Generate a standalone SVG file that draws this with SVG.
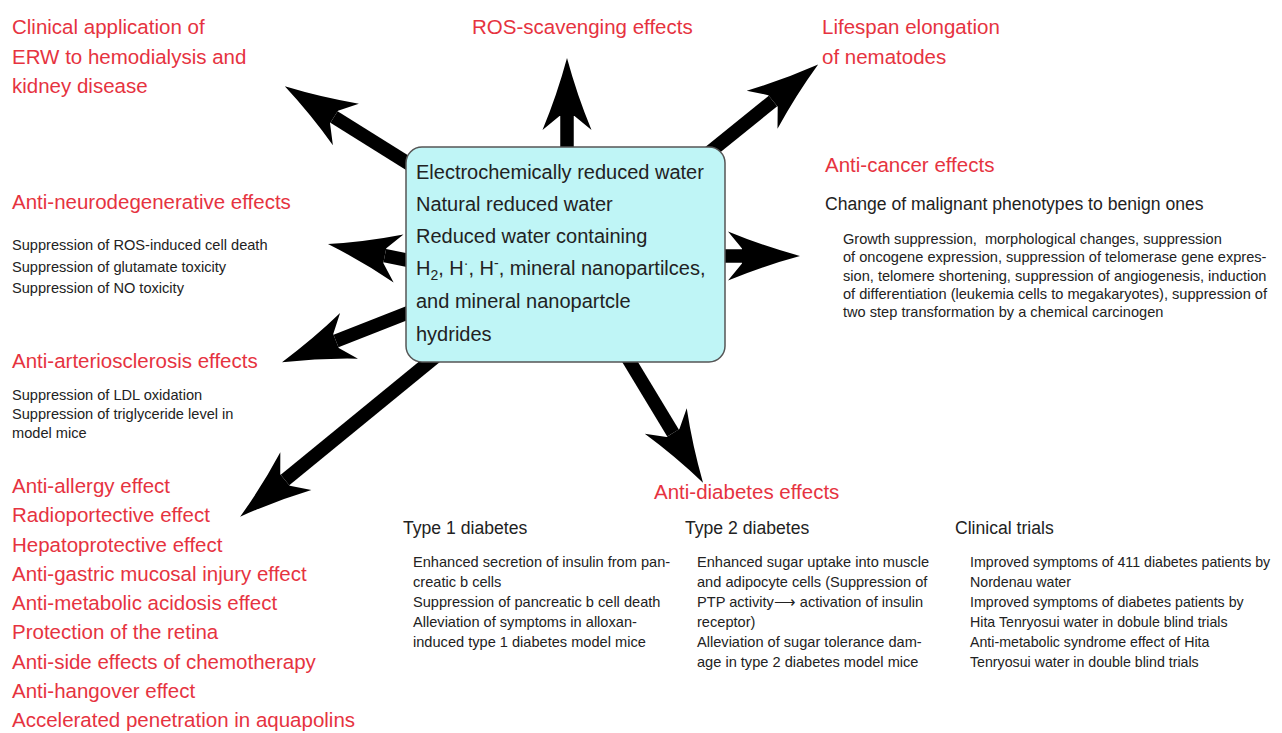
<svg xmlns="http://www.w3.org/2000/svg" width="1282" height="733" viewBox="0 0 1282 733">
<defs>
<style>
text{font-family:"Liberation Sans",Arial,Helvetica,sans-serif}
.red{fill:#e6333f;font-size:20.5px}
.hd{fill:#222;font-size:17.6px}
.sm{fill:#222;font-size:14.6px}
.ct{fill:#222;font-size:14.2px}
.bx{fill:#222;font-size:20px}
.arr{stroke:#000;stroke-width:13.5;fill:none;marker-end:url(#head)}
</style>
<marker id="head" markerUnits="userSpaceOnUse" viewBox="-20 -30 100 60" markerWidth="100" markerHeight="60" refX="0" refY="0" orient="auto" overflow="visible">
<path d="M58,0 Q21,-10 -14,-24.5 L0,-7.5 L0,7.5 L-14,24.5 Q21,10 58,0 Z" fill="#000"/>
</marker>
</defs>
<rect width="1282" height="733" fill="#fff"/>

<g id="connectors">
<line class="arr" x1="430" y1="177" x2="334" y2="117"/>
<line class="arr" x1="567" y1="165" x2="567" y2="116"/>
<line class="arr" x1="695" y1="164" x2="773" y2="101"/>
<line class="arr" x1="424" y1="263.6" x2="384.8" y2="255.6"/>
<line class="arr" x1="700" y1="256" x2="742" y2="256"/>
<line class="arr" x1="420" y1="308" x2="336" y2="341"/>
<line class="arr" x1="450" y1="345" x2="285" y2="480"/>
<line class="arr" x1="621" y1="347" x2="673" y2="433"/>
</g>

<g id="center">
<rect x="406" y="147" width="319" height="215" rx="16" ry="16" fill="#bff5f6" stroke="#555" stroke-width="1.5"/>
<text class="bx" x="416" y="179">Electrochemically reduced water</text>
<text class="bx" x="416" y="211">Natural reduced water</text>
<text class="bx" x="416" y="243">Reduced water containing</text>
<text class="bx" x="416" y="275">H<tspan font-size="14" dy="5">2</tspan><tspan dy="-5">, H</tspan><tspan font-size="14" dy="-7">·</tspan><tspan dy="7">, H</tspan><tspan font-size="14" dy="-7">-</tspan><tspan dy="7">, mineral nanopartilces,</tspan></text>
<text class="bx" x="416" y="308">and mineral nanopartcle</text>
<text class="bx" x="416" y="341">hydrides</text>
</g>

<g id="clinical-erw">
<text class="red" x="12" y="34">Clinical application of</text>
<text class="red" x="12" y="63.5">ERW to hemodialysis and</text>
<text class="red" x="12" y="93">kidney disease</text>
</g>

<g id="ros">
<text class="red" x="472" y="34">ROS-scavenging effects</text>
</g>

<g id="lifespan">
<text class="red" x="822" y="34">Lifespan elongation</text>
<text class="red" x="822" y="64">of nematodes</text>
</g>

<g id="anti-cancer">
<text class="red" x="825" y="172">Anti-cancer effects</text>
<text class="hd" x="825" y="210">Change of malignant phenotypes to benign ones</text>
<text class="sm" x="843" y="244" style="white-space:pre">Growth suppression,  morphological changes, suppression</text>
<text class="sm" x="843" y="262.3">of oncogene expression, suppression of telomerase gene expres-</text>
<text class="sm" x="843" y="280.6">sion, telomere shortening, suppression of angiogenesis, induction</text>
<text class="sm" x="843" y="299">of differentiation (leukemia cells to megakaryotes), suppression of</text>
<text class="sm" x="843" y="317.3">two step transformation by a chemical carcinogen</text>
</g>

<g id="anti-neuro">
<text class="red" x="12" y="209">Anti-neurodegenerative effects</text>
<text class="sm" x="12" y="250">Suppression of ROS-induced cell death</text>
<text class="sm" x="12" y="271.5">Suppression of glutamate toxicity</text>
<text class="sm" x="12" y="293">Suppression of NO toxicity</text>
</g>

<g id="anti-arterio">
<text class="red" x="12" y="368">Anti-arteriosclerosis effects</text>
<text class="sm" x="12" y="400">Suppression of LDL oxidation</text>
<text class="sm" x="12" y="419">Suppression of triglyceride level in</text>
<text class="sm" x="12" y="438">model mice</text>
</g>

<g id="other-effects">
<text class="red" x="12" y="493">Anti-allergy effect</text>
<text class="red" x="12" y="522.3">Radioportective effect</text>
<text class="red" x="12" y="551.5">Hepatoprotective effect</text>
<text class="red" x="12" y="580.8">Anti-gastric mucosal injury effect</text>
<text class="red" x="12" y="610">Anti-metabolic acidosis effect</text>
<text class="red" x="12" y="639.3">Protection of the retina</text>
<text class="red" x="12" y="668.5">Anti-side effects of chemotherapy</text>
<text class="red" x="12" y="697.8">Anti-hangover effect</text>
<text class="red" x="12" y="727">Accelerated penetration in aquapolins</text>
</g>

<g id="anti-diabetes">
<text class="red" x="654" y="499">Anti-diabetes effects</text>
</g>

<g id="type1">
<text class="hd" x="403" y="534">Type 1 diabetes</text>
<text class="sm" x="413" y="567">Enhanced secretion of insulin from pan-</text>
<text class="sm" x="413" y="587">creatic b cells</text>
<text class="sm" x="413" y="607">Suppression of pancreatic b cell death</text>
<text class="sm" x="413" y="627">Alleviation of symptoms in alloxan-</text>
<text class="sm" x="413" y="647">induced type 1 diabetes model mice</text>
</g>

<g id="type2">
<text class="hd" x="685" y="534">Type 2 diabetes</text>
<text class="sm" x="697" y="567">Enhanced sugar uptake into muscle</text>
<text class="sm" x="697" y="587">and adipocyte cells (Suppression of</text>
<text class="sm" x="697" y="607">PTP activity⟶ activation of insulin</text>
<text class="sm" x="697" y="627">receptor)</text>
<text class="sm" x="697" y="647">Alleviation of sugar tolerance dam-</text>
<text class="sm" x="697" y="667">age in type 2 diabetes model mice</text>
</g>

<g id="clinical-trials">
<text class="hd" x="955" y="534">Clinical trials</text>
<text class="ct" x="970" y="567">Improved symptoms of 411 diabetes patients by</text>
<text class="ct" x="970" y="587">Nordenau water</text>
<text class="ct" x="970" y="607">Improved symptoms of diabetes patients by</text>
<text class="ct" x="970" y="627">Hita Tenryosui water in dobule blind trials</text>
<text class="ct" x="970" y="647">Anti-metabolic syndrome effect of Hita</text>
<text class="ct" x="970" y="667">Tenryosui water in double blind trials</text>
</g>
</svg>
